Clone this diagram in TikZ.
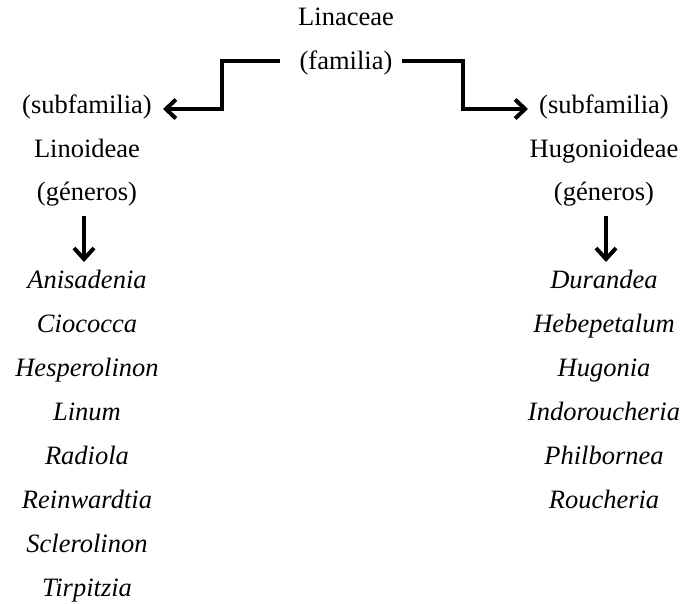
\documentclass[tikz,border=0pt]{standalone}
\usepackage{fontspec}
\setmainfont{Liberation Serif}
\usetikzlibrary{arrows.meta}
\begin{document}
\begin{tikzpicture}[x=1pt,y=-1pt,
  lbl/.style={anchor=base,inner sep=0pt,font=\fontsize{26.5}{30}\selectfont},
  gen/.style={lbl,font=\fontsize{26.5}{30}\selectfont\itshape},
  conn/.style={line width=4pt,-{Straight Barb[length=10pt,width=19pt,line width=4pt]}},
  down/.style={line width=3.8pt,-{Straight Barb[length=11pt,width=20pt,line width=4pt]}}]
\useasboundingbox (0,0) rectangle (686,603);
\node[lbl] (lin) at (346,25) {Linaceae};
\node[lbl] (fam) at (346,69) {(familia)};
\node[lbl] (sl) at (87,113) {(subfamilia)};
\node[lbl] (sr) at (604,113) {(subfamilia)};
\node[lbl] (lino) at (87,157) {Linoideae};
\node[lbl] (hugo) at (604,157) {Hugonioideae};
\node[lbl] (gl) at (87,200) {(géneros)};
\node[lbl] (gr) at (604,200) {(géneros)};
\node[gen] (l1) at (87,288) {Anisadenia};
\node[gen] (l2) at (87,332) {Ciococca};
\node[gen] (l3) at (87,376) {Hesperolinon};
\node[gen] (l4) at (87,420) {Linum};
\node[gen] (l5) at (87,464) {Radiola};
\node[gen] (l6) at (87,508) {Reinwardtia};
\node[gen] (l7) at (87,552) {Sclerolinon};
\node[gen] (l8) at (87,596) {Tirpitzia};
\node[gen] (r1) at (604,288) {Durandea};
\node[gen] (r2) at (604,332) {Hebepetalum};
\node[gen] (r3) at (604,376) {Hugonia};
\node[gen] (r4) at (604,420) {Indoroucheria};
\node[gen] (r5) at (604,464) {Philbornea};
\node[gen] (r6) at (604,508) {Roucheria};
\coordinate (fl) at (280,61);
\coordinate (fr) at (402,61);
\coordinate (tl) at (163,109);
\coordinate (tr) at (528,109);
\draw[conn] (fl) -| (222,109) -- (tl);
\draw[conn] (fr) -| (463,109) -- (tr);
\coordinate (dl1) at (84,216);
\coordinate (dl2) at (84,262);
\coordinate (dr1) at (606,216);
\coordinate (dr2) at (606,262);
\draw[down] (dl1) -- (dl2);
\draw[down] (dr1) -- (dr2);
\end{tikzpicture}
\end{document}
